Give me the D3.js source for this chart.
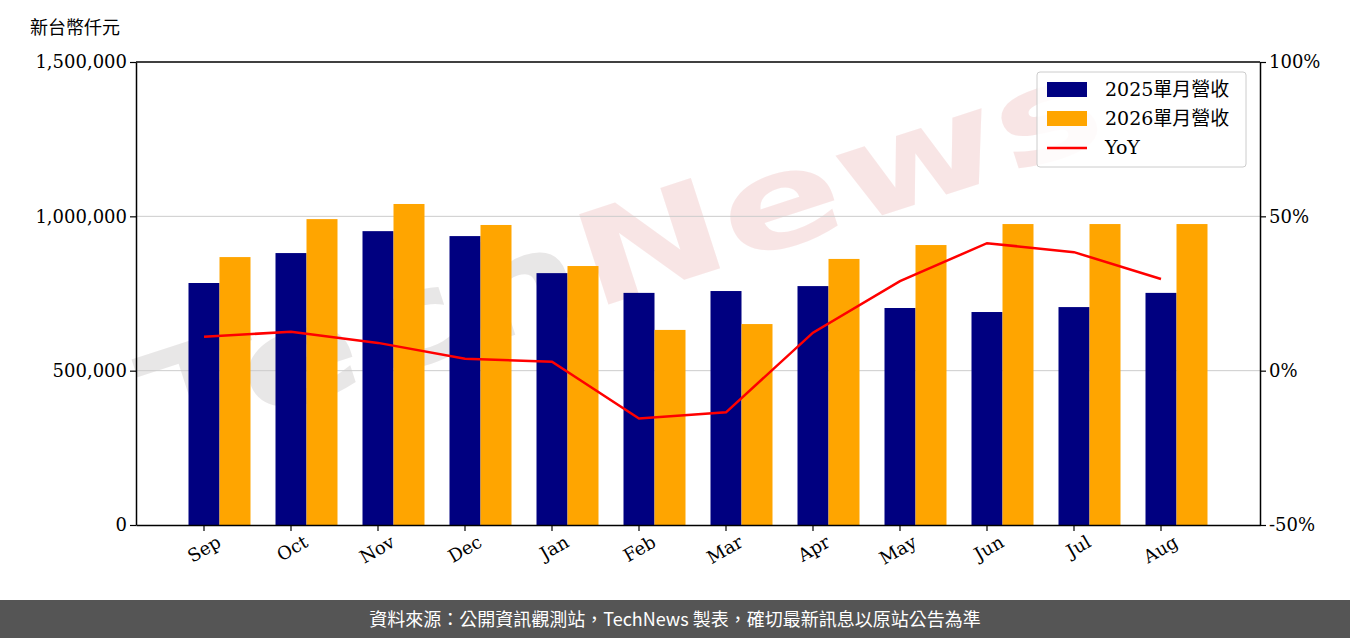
<!DOCTYPE html>
<html><head><meta charset="utf-8">
<script src="https://cdn.jsdelivr.net/npm/d3@7"></script>
<style>body{margin:0;background:#fff}svg{display:block}</style>
</head><body><svg id="chart"></svg>
<script>
const months = ["Sep","Oct","Nov","Dec","Jan","Feb","Mar","Apr","May","Jun","Jul","Aug"];
const rev2025 = [784000,881000,952000,936000,816000,752000,758000,774000,703000,690000,706000,752000];
const rev2026 = [868000,991000,1040000,972000,839000,632000,651000,862000,907000,975000,975000,975000];
const yoy = [11.0,12.6,9.0,3.9,2.9,-15.5,-13.5,12.3,29.0,41.3,38.4,29.7];
const leftTicks = [0,500000,1000000,1500000];
const rightTicks = [-50,0,50,100];

const W = 1350, H = 638, L = 136, R = 1260, T = 62, B = 525;
const svg = d3.select("#chart").attr("width", W).attr("height", H);
const serif = "'DejaVu Serif', serif";

const x = d3.scaleBand().domain(months).range([L, R]).paddingOuter(40/87).paddingInner(0);
const y = d3.scaleLinear().domain([0,1500000]).range([B, T]);
const y2 = d3.scaleLinear().domain([-50,100]).range([B, T]);
const bw = 31;
const cx = m => x(m) + x.bandwidth()/2 - bw/2;

// watermark
const t = svg.append("text").attr("opacity",0.4)
  .attr("transform","translate(160,450) rotate(-18)")
  .attr("font-family","'DejaVu Sans', sans-serif").attr("font-weight","bold").attr("font-size",130)
  .attr("textLength",1000).attr("lengthAdjust","spacingAndGlyphs");
t.append("tspan").attr("fill","#c8c4c4").text("Tech");
t.append("tspan").attr("fill","#f0c0c0").text("News");

// grid
svg.append("g").selectAll("line").data(leftTicks.slice(1,3)).join("line")
  .attr("x1",L).attr("x2",R).attr("y1",d=>y(d)).attr("y2",d=>y(d))
  .attr("stroke","#cccccc").attr("stroke-width",1);

svg.append("g").selectAll("rect").data(rev2025).join("rect")
  .attr("x",(d,i)=>x(months[i])+x.bandwidth()/2-bw).attr("width",bw)
  .attr("y",d=>y(d)).attr("height",d=>B-y(d)).attr("fill","#000080");
svg.append("g").selectAll("rect").data(rev2026).join("rect")
  .attr("x",(d,i)=>x(months[i])+x.bandwidth()/2).attr("width",bw)
  .attr("y",d=>y(d)).attr("height",d=>B-y(d)).attr("fill","#ffa500");

svg.append("path").datum(yoy)
  .attr("d", d3.line().x((d,i)=>cx(months[i])).y(d=>y2(d)))
  .attr("fill","none").attr("stroke","#ff0000").attr("stroke-width",2.5);

// axes
const ax = svg.append("g").attr("transform",`translate(${L},0)`)
  .call(d3.axisLeft(y).tickValues(leftTicks).tickFormat(d3.format(",")).tickSizeOuter(0));
const ax2 = svg.append("g").attr("transform",`translate(${R},0)`)
  .call(d3.axisRight(y2).tickValues(rightTicks).tickFormat(d=>d+"%").tickSizeOuter(0));
const axb = svg.append("g").attr("transform",`translate(0,${B})`)
  .call(d3.axisBottom(x).tickSizeOuter(0));
axb.selectAll(".tick").attr("transform",d=>`translate(${cx(d)},0)`);
axb.selectAll("text").attr("transform","rotate(-30)").attr("text-anchor","end")
  .attr("dx","0.3em").attr("dy","1.0em");
[ax,ax2,axb].forEach(a=>{
  a.selectAll("text").attr("font-family",serif).attr("font-size",18).attr("fill","#000");
  a.selectAll("line").attr("stroke","#000").attr("stroke-width",1.2);
  a.select(".domain").attr("stroke","#000").attr("stroke-width",1.5);
});
svg.append("line").attr("x1",L).attr("x2",R).attr("y1",T).attr("y2",T).attr("stroke","#000").attr("stroke-width",1.5);

svg.append("text").attr("x",30).attr("y",34).attr("font-family","'Noto Sans CJK TC', sans-serif")
  .attr("font-size",18).text("新台幣仟元");

// legend
const lg = svg.append("g").attr("transform","translate(1037,72)");
lg.append("rect").attr("width",209).attr("height",95).attr("rx",3).attr("fill","#fff")
  .attr("fill-opacity",0.85).attr("stroke","#ccc");
const items = [["2025單月營收","#000080","bar"],["2026單月營收","#ffa500","bar"],["YoY","#ff0000","line"]];
items.forEach((it,i)=>{
  const g = lg.append("g").attr("transform",`translate(10,${18+i*29})`);
  if (it[2]==="bar") g.append("rect").attr("x",0).attr("y",-8).attr("width",40).attr("height",15).attr("fill",it[1]);
  else g.append("line").attr("x1",0).attr("x2",40).attr("y1",0).attr("y2",0).attr("stroke",it[1]).attr("stroke-width",2.5);
  g.append("text").attr("x",58).attr("y",6).attr("font-family","'DejaVu Serif','Noto Sans CJK TC',serif")
    .attr("font-size",19).text(it[0]);
});

// footer
svg.append("rect").attr("x",0).attr("y",600).attr("width",W).attr("height",38).attr("fill","#555555");
svg.append("text").attr("x",W/2).attr("y",626).attr("text-anchor","middle").attr("fill","#fff")
  .attr("font-family","'Noto Sans CJK TC', sans-serif").attr("font-size",18)
  .text("資料來源：公開資訊觀測站，TechNews 製表，確切最新訊息以原站公告為準");
</script></body></html>
